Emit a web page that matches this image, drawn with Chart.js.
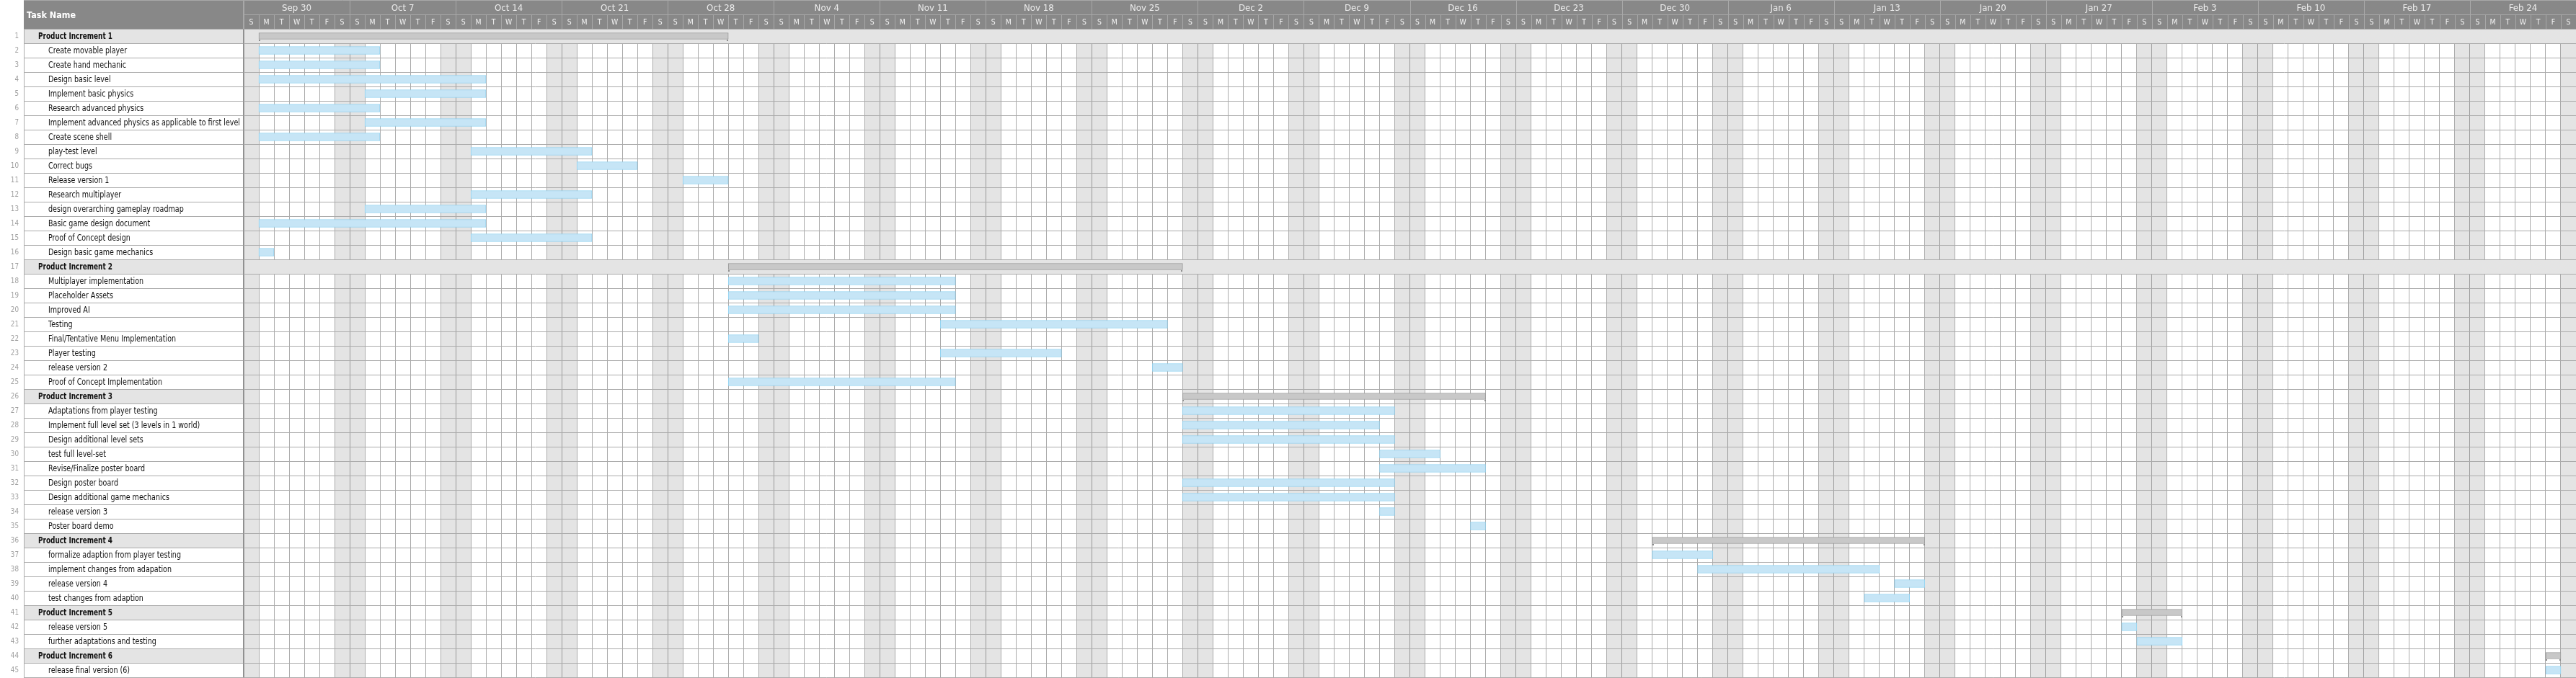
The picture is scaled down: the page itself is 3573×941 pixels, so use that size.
<!DOCTYPE html>
<html>
<head>
<meta charset="utf-8">
<title>Project Gantt</title>
<script src="https://cdn.jsdelivr.net/npm/chart.js@4.4.1/dist/chart.umd.min.js"></script>
<style>
  html, body { margin:0; padding:0; background:#fff; overflow:hidden }
  #wrap { width:3573px; height:941px }
</style>
</head>
<body>
<div id="wrap"><canvas id="gantt" width="3573" height="941"></canvas></div>
<script>
// Task list, one entry per row (row number = index + 1)
const taskNames = [
  'Product Increment 1',
  'Create movable player',
  'Create hand mechanic',
  'Design basic level',
  'Implement basic physics',
  'Research advanced physics',
  'Implement advanced physics as applicable to first level',
  'Create scene shell',
  'play-test level',
  'Correct bugs',
  'Release version 1',
  'Research multiplayer',
  'design overarching gameplay roadmap',
  'Basic game design document',
  'Proof of Concept design',
  'Design basic game mechanics',
  'Product Increment 2',
  'Multiplayer implementation',
  'Placeholder Assets',
  'Improved AI',
  'Testing',
  'Final/Tentative Menu Implementation',
  'Player testing',
  'release version 2',
  'Proof of Concept Implementation',
  'Product Increment 3',
  'Adaptations from player testing',
  'Implement full level set (3 levels in 1 world)',
  'Design additional level sets',
  'test full level-set',
  'Revise/Finalize poster board',
  'Design poster board',
  'Design additional game mechanics',
  'release version 3',
  'Poster board demo',
  'Product Increment 4',
  'formalize adaption from player testing',
  'implement changes from adapation',
  'release version 4',
  'test changes from adaption',
  'Product Increment 5',
  'release version 5',
  'further adaptations and testing',
  'Product Increment 6',
  'release final version (6)'
]
const summaryRows = [1, 17, 26, 36, 41, 44]

// day offsets from Sun Sep 29 (bar start, bar end)
const startDay = [1,1,1,1,8,1,8,1,15,22,29,15,8,1,15,1,
                  32,32,32,32,46,32,46,60,32,
                  62,62,62,62,75,75,62,62,75,81,
                  93,93,96,109,107,
                  124,124,125,
                  152,152]
const endDay   = [32,9,9,16,16,9,16,9,23,26,32,23,16,16,23,2,
                  62,47,47,47,61,34,54,62,47,
                  82,76,75,76,79,82,76,76,76,82,
                  111,97,108,111,110,
                  128,125,128,
                  153,153]

const weekLabels = ['Sep 30','Oct 7','Oct 14','Oct 21','Oct 28','Nov 4','Nov 11','Nov 18','Nov 25',
  'Dec 2','Dec 9','Dec 16','Dec 23','Dec 30','Jan 6','Jan 13','Jan 20','Jan 27',
  'Feb 3','Feb 10','Feb 17','Feb 24']
const dayLetters = ['S','M','T','W','T','F','S']
const totalDays = weekLabels.length * 7

const rowLabels = taskNames.map((_, i) => String(i + 1))
const isSummary = i => summaryRows.includes(i + 1)
const taskBars = taskNames.map((_, i) => isSummary(i) ? null : [startDay[i], endDay[i]])
const summaryBars = taskNames.map((_, i) => isSummary(i) ? [startDay[i], endDay[i]] : null)

const NUM_COL = 33
const HEADER_H = 40
const GRID = '#ababab'
const FONT = '"DejaVu Sans", "Liberation Sans", sans-serif'

function squeezeText(ctx, text, x, y, sx){
  ctx.save(); ctx.translate(x, y); ctx.scale(sx, 1); ctx.fillText(text, 0, 0); ctx.restore()
}
function fitScale(ctx, font, sample, target){
  ctx.save(); ctx.font = font
  const w = ctx.measureText(sample).width
  ctx.restore()
  return Math.min(1, target / w)
}

function rowBand(y, i){
  const c = y.getPixelForValue(i)
  const half = (y.getPixelForValue(1) - y.getPixelForValue(0)) / 2
  return [Math.round(c - half), Math.round(c + half)]
}

const ganttPlugin = {
  id: 'ganttFrame',
  beforeDraw(chart){
    const { ctx, chartArea: a, scales: { x } } = chart
    ctx.save()
    ctx.fillStyle = '#fff'; ctx.fillRect(0, 0, chart.width, chart.height)
    ctx.fillStyle = '#e4e4e4'
    for (let d = 0; d < totalDays; d++){
      const dow = d % 7
      if (dow !== 0 && dow !== 6) continue
      const x0 = Math.round(x.getPixelForValue(d)), x1 = Math.round(x.getPixelForValue(d + 1))
      ctx.fillRect(x0, a.top, x1 - x0, a.bottom - a.top)
    }
    ctx.restore()
  },
  beforeDatasetsDraw(chart){
    // the first two increments are shaded across the whole timeline
    const { ctx, chartArea: a, scales: { y } } = chart
    ctx.save(); ctx.fillStyle = '#e4e4e4'
    ;[0, 16].forEach(i => {
      const [t, b] = rowBand(y, i)
      ctx.fillRect(a.left + 1, t + 1, a.right - a.left - 1, b - t - 1)
    })
    ctx.restore()
  },
  afterDatasetsDraw(chart){
    const { ctx } = chart
    const meta = chart.getDatasetMeta(1)
    ctx.save(); ctx.fillStyle = '#8e8e8e'
    meta.data.forEach((bar, i) => {
      if (!isSummary(i)) return
      const p = bar.getProps(['x', 'base', 'y', 'height'], true)
      const l = Math.round(Math.min(p.x, p.base)), r = Math.round(Math.max(p.x, p.base))
      const bot = Math.round(p.y + p.height / 2)
      ctx.fillRect(l, bot, 2, 2)
      ctx.fillRect(r - 2, bot, 2, 2)
    })
    ctx.restore()
  },
  afterDraw(chart){
    const { ctx, chartArea: a, scales: { x, y } } = chart
    ctx.save()

    // ---- left task list
    const nameFont = '12px ' + FONT, boldFont = 'bold 12px ' + FONT
    const sxName = fitScale(ctx, nameFont, taskNames[6], 266)
    const sxBold = fitScale(ctx, boldFont, taskNames[0], 103)
    ctx.textBaseline = 'middle'
    taskNames.forEach((name, i) => {
      const [t, b] = rowBand(y, i)
      const cy = (t + b) / 2 + 0.5
      if (isSummary(i)){ ctx.fillStyle = '#e4e4e4'; ctx.fillRect(NUM_COL, t, a.left - NUM_COL, b - t) }
      ctx.fillStyle = '#111'
      ctx.textAlign = 'left'
      if (isSummary(i)){ ctx.font = boldFont; squeezeText(ctx, name, 53, cy, sxBold) }
      else { ctx.font = nameFont; squeezeText(ctx, name, 67, cy, sxName) }
      ctx.fillStyle = '#a0a0a0'; ctx.font = '11px ' + FONT; ctx.textAlign = 'right'
      squeezeText(ctx, rowLabels[i], 26, cy, 0.8)
    })
    ctx.strokeStyle = GRID; ctx.lineWidth = 1
    ctx.beginPath()
    for (let i = 0; i <= taskNames.length; i++){
      const yy = i < taskNames.length ? rowBand(y, i)[0] : rowBand(y, i - 1)[1]
      ctx.moveTo(NUM_COL, yy + 0.5); ctx.lineTo(a.left, yy + 0.5)
    }
    ctx.moveTo(NUM_COL + 0.5, HEADER_H); ctx.lineTo(NUM_COL + 0.5, a.bottom)
    ctx.stroke()
    ctx.strokeStyle = '#8f8f8f'
    ctx.beginPath(); ctx.moveTo(a.left - 0.5, 0); ctx.lineTo(a.left - 0.5, a.bottom); ctx.stroke()

    // ---- header
    ctx.fillStyle = '#888888'
    ctx.fillRect(NUM_COL, 0, chart.width - NUM_COL, HEADER_H)
    ctx.fillStyle = '#fff'; ctx.textAlign = 'left'
    const hFont = 'bold 13px ' + FONT
    ctx.font = hFont
    squeezeText(ctx, 'Task Name', 37, 22, fitScale(ctx, hFont, 'Task Name', 68))

    ctx.strokeStyle = '#a8a8a8'
    ctx.beginPath()
    ctx.moveTo(NUM_COL, 0.5); ctx.lineTo(a.right, 0.5)
    ctx.moveTo(a.left, 20.5); ctx.lineTo(a.right, 20.5)
    ctx.moveTo(a.left - 0.5, 0); ctx.lineTo(a.left - 0.5, HEADER_H)
    for (let d = 0; d <= totalDays; d++){
      const px = Math.round(x.getPixelForValue(d)) + 0.5
      ctx.moveTo(px, d % 7 === 0 ? 0 : 20); ctx.lineTo(px, HEADER_H)
    }
    ctx.stroke()

    ctx.textAlign = 'center'
    const wFont = '12px ' + FONT
    const sxWeek = fitScale(ctx, wFont, 'Sep 30', 41)
    ctx.font = wFont; ctx.fillStyle = '#ececec'
    weekLabels.forEach((lbl, k) => {
      const cx = (x.getPixelForValue(k * 7) + x.getPixelForValue(k * 7 + 7)) / 2
      squeezeText(ctx, lbl, cx, 11.5, sxWeek)
    })
    ctx.font = '11px ' + FONT; ctx.fillStyle = '#f2f2f2'
    for (let d = 0; d < totalDays; d++){
      const cx = (x.getPixelForValue(d) + x.getPixelForValue(d + 1)) / 2
      squeezeText(ctx, dayLetters[d % 7], cx, 31.5, 0.85)
    }
    ctx.restore()
  }
}

new Chart(document.getElementById('gantt'), {
  type: 'bar',
  data: {
    labels: rowLabels,
    datasets: [
      { label: 'Tasks', data: taskBars, backgroundColor: '#c6e5f6', borderColor: '#93d3f1',
        borderWidth: 1, borderSkipped: false, barThickness: 11, grouped: false },
      { label: 'Increments', data: summaryBars, backgroundColor: '#c8c8c8', borderColor: '#9a9a9a',
        borderWidth: 1, borderSkipped: false, barThickness: 9, grouped: false }
    ]
  },
  options: {
    indexAxis: 'y',
    responsive: false,
    animation: false,
    devicePixelRatio: 1,
    layout: { padding: { left: 338, top: HEADER_H, right: 0, bottom: 1 } },
    plugins: { legend: { display: false }, tooltip: { enabled: false } },
    scales: {
      x: {
        type: 'linear', position: 'top', min: 0, max: totalDays,
        ticks: { display: false, stepSize: 1, autoSkip: false },
        grid: { drawTicks: false, color: c => (c.tick && c.tick.value % 7 === 0) ? '#989898' : GRID },
        border: { display: false },
        afterFit: s => { s.height = 0 }
      },
      y: {
        type: 'category',
        ticks: { display: false },
        grid: { drawTicks: false, color: GRID, offset: true },
        border: { display: false },
        afterFit: s => { s.width = 0 }
      }
    }
  },
  plugins: [ganttPlugin]
})
</script>
</body>
</html>
